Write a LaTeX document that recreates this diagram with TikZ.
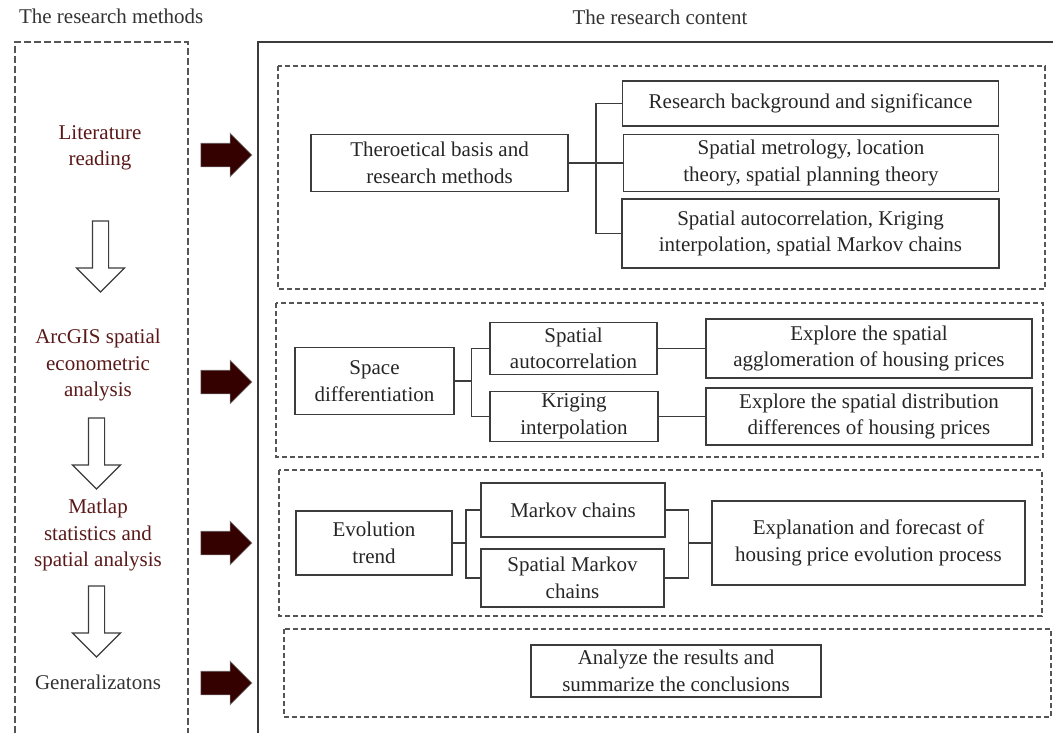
\documentclass[tikz,border=0pt]{standalone}
\usepackage{fontspec}
\setmainfont{Liberation Serif}
\usetikzlibrary{shapes.arrows, calc}

\definecolor{linegray}{RGB}{60,60,60}
\definecolor{dashgray}{RGB}{85,85,85}
\definecolor{methodred}{RGB}{90,25,25}
\definecolor{arrowred}{RGB}{52,0,0}

\begin{document}
\begin{tikzpicture}[
    x=0.5pt, y=-0.5pt,
    font=\fontsize{10.5}{13.25}\selectfont,
    box/.style={draw=linegray, line width=0.6pt, rectangle, align=center,
                inner sep=0pt, text=black!85},
    group/.style={draw=dashgray, line width=0.6pt, dash pattern=on 2.5pt off 1.5pt},
    method/.style={align=center, text=methodred},
    link/.style={draw=linegray, line width=0.6pt},
    fat/.style={single arrow, fill=arrowred, draw=gray, line width=0.3pt,
                inner xsep=0pt, inner ysep=5.75pt, single arrow head extend=5pt,
                minimum height=25.5pt},
    down/.style={single arrow, draw=linegray, line width=0.6pt, fill=white,
                 inner xsep=0pt, inner ysep=3.75pt, single arrow head extend=8pt,
                 minimum height=35.5pt, rotate=-90},
    title/.style={text=black!80}
]
\useasboundingbox (0,0) rectangle (1053,733);

% Titles
\node[title, anchor=west] (mtitle) at (12,16) {The research methods};
\node[title] (ctitle) at (660,17) {The research content};

% Frames
\draw[dashgray, line width=0.6pt, dash pattern=on 3.3pt off 1.7pt]
      (15,733) -- (15,42) -- (188,42) -- (188,733);
\draw[linegray, line width=0.6pt] (258,733) -- (258,42) -- (1053,42);
\draw[group] (278,66) rectangle (1045,289);
\draw[group] (276,303) rectangle (1043,457);
\draw[group] (279,470) rectangle (1042,616);
\draw[group] (284,629) rectangle (1051,717);

% Left -- methods
\node[method] (lit) at (100,148) {Literature\\reading};
\node[method] (arc) at (98,365) {ArcGIS spatial\\econometric\\analysis};
\node[method] (mat) at (98,535) {Matlap\\statistics and\\spatial analysis};
\node[method, text=black!80] (gen) at (98,682) {Generalizatons};
\node[down] (d1) at (100.5,252.5) {};
\node[down] (d2) at (96.5,449.5) {};
\node[down] (d3) at (96.5,617.5) {};
\foreach \y [count=\i] in {155,382,543,683}
    \node[fat] (fa\i) at (220.5,\y) {};

% Right -- content, first block
\node[box, minimum width=128.5pt, minimum height=28.5pt] (theo) at (439.5,163)
      {Theroetical basis and\\research methods};
\node[box, minimum width=188pt, minimum height=22.5pt] (rb1) at (810.5,103.5)
      {Research background and significance};
\node[box, minimum width=187.5pt, minimum height=28.5pt] (rb2) at (811,163)
      {Spatial metrology, location\\theory, spatial planning theory};
\node[box, minimum width=188.5pt, minimum height=34.5pt] (rb3) at (810.5,233.5)
      {Spatial autocorrelation, Kriging\\interpolation, spatial Markov chains};
\coordinate (j1) at (596,163);
\draw[link] (theo) -- (j1) (j1) -- (rb2) (j1) |- (rb1) (j1) |- (rb3);

% second block
\node[box, minimum width=79.5pt, minimum height=33.5pt] (spdiff) at (374.5,381)
      {Space\\differentiation};
\node[box, minimum width=83.5pt, minimum height=26pt] (sauto) at (573.5,348.5)
      {Spatial\\autocorrelation};
\node[box, minimum width=84pt, minimum height=25pt] (krig) at (574,416.5)
      {Kriging\\interpolation};
\node[box, minimum width=163pt, minimum height=29.5pt] (exp1) at (869,348.5)
      {Explore the spatial\\agglomeration of housing prices};
\node[box, minimum width=163pt, minimum height=28.5pt] (exp2) at (869,416.5)
      {Explore the spatial distribution\\differences of housing prices};
\coordinate (j2) at (471.5,381);
\draw[link] (spdiff) -- (j2) (j2) |- (sauto) (j2) |- (krig);
\draw[link] (sauto) -- (exp1) (krig) -- (exp2);

% third block
\node[box, minimum width=78pt, minimum height=32pt] (evo) at (374,543)
      {Evolution\\trend};
\node[box, minimum width=92pt, minimum height=27pt] (mark) at (573,510)
      {Markov chains};
\node[box, minimum width=91.5pt, minimum height=29pt] (smark) at (572.5,578)
      {Spatial Markov\\chains};
\node[box, minimum width=156.5pt, minimum height=42pt] (expl) at (868.5,543)
      {Explanation and forecast of\\housing price evolution process};
\coordinate (j3) at (466,543);
\coordinate (j4) at (688.5,543);
\draw[link] (evo) -- (j3) (j3) |- (mark) (j3) |- (smark);
\draw[link] (mark) -| (j4) (smark) -| (j4) (j4) -- (expl);

% fourth block
\node[box, minimum width=145pt, minimum height=26pt] (anal) at (676,671)
      {Analyze the results and\\summarize the conclusions};
\end{tikzpicture}
\end{document}
